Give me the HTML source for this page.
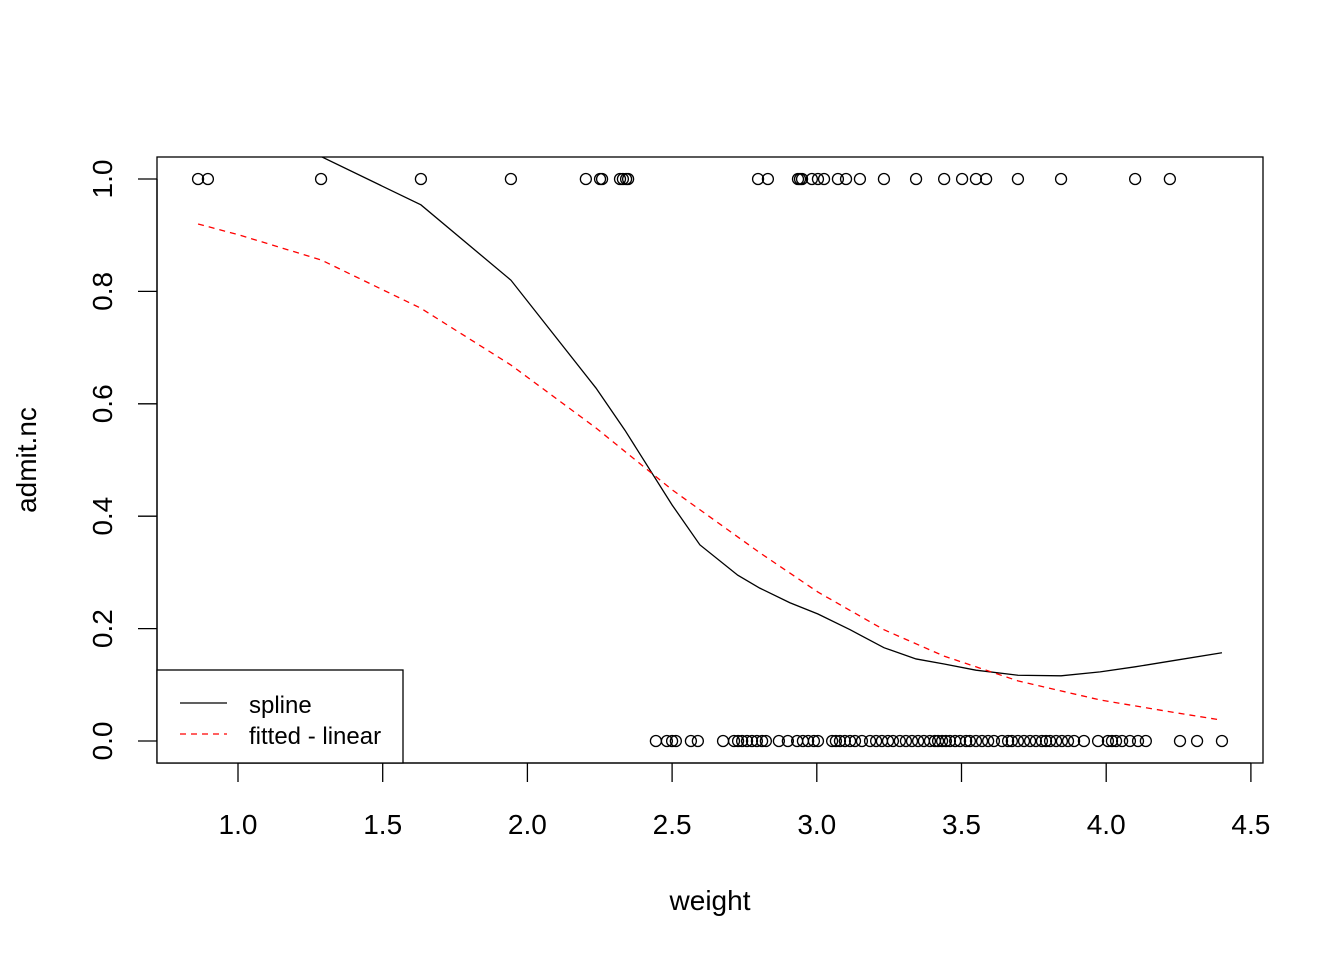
<!DOCTYPE html>
<html><head><meta charset="utf-8"><style>
body{margin:0;background:#fff}
svg{font-family:"Liberation Sans",Arial,sans-serif}
</style></head><body>
<svg id="c" width="1344" height="960">
<defs><clipPath id="clip"><rect x="157" y="157" width="1106" height="606"/></clipPath></defs>
<rect x="157" y="157" width="1106" height="606" fill="none" stroke="#000" stroke-width="1.3"/>
<g id="marks" clip-path="url(#clip)"></g>
<g id="axes"></g>
<text x="710" y="910" font-size="28" text-anchor="middle">weight</text>
<text transform="translate(36,460) rotate(-90)" font-size="28" text-anchor="middle">admit.nc</text>
<g>
<rect x="157" y="670" width="246" height="93" fill="#fff" stroke="#000" stroke-width="1.3"/>
<line x1="180" y1="703" x2="227" y2="703" stroke="#000" stroke-width="1.3"/>
<text x="249" y="713" font-size="24">spline</text>
<line x1="180" y1="734" x2="227" y2="734" stroke="#f00" stroke-width="1.3" stroke-dasharray="6,5"/>
<text x="249" y="744" font-size="24">fitted - linear</text>
</g>
</svg>
<script>
const admitWeights=[0.862,0.896,1.287,1.632,1.943,2.202,2.251,2.258,2.320,2.330,2.341,2.348,2.797,2.831,2.935,2.942,2.949,2.983,3.004,3.025,3.073,3.101,3.149,3.232,3.343,3.440,3.502,3.550,3.585,3.695,3.844,4.100,4.220];
const rejectWeights=[2.444,2.482,2.500,2.513,2.565,2.589,2.676,2.714,2.728,2.742,2.759,2.776,2.793,2.811,2.824,2.869,2.900,2.932,2.952,2.970,2.990,3.004,3.053,3.066,3.080,3.097,3.115,3.132,3.156,3.184,3.205,3.225,3.246,3.263,3.287,3.308,3.329,3.350,3.370,3.391,3.408,3.419,3.433,3.446,3.460,3.478,3.495,3.516,3.529,3.550,3.571,3.592,3.612,3.640,3.661,3.674,3.695,3.716,3.737,3.757,3.778,3.792,3.806,3.827,3.847,3.868,3.889,3.923,3.972,4.006,4.020,4.034,4.055,4.082,4.110,4.137,4.255,4.314,4.400];
const splineX=[0.862,1.287,1.632,1.943,2.237,2.337,2.500,2.596,2.727,2.803,2.907,3.004,3.115,3.232,3.343,3.440,3.550,3.695,3.844,3.979,4.100,4.220,4.400];
const splineY=[1.13,1.04,0.954,0.820,0.628,0.553,0.420,0.349,0.295,0.272,0.246,0.226,0.198,0.166,0.146,0.137,0.126,0.117,0.116,0.123,0.132,0.142,0.157];
const fitX=[0.862,1.007,1.287,1.632,1.943,2.237,2.500,2.803,3.004,3.232,3.440,3.695,3.979,4.220,4.400];
const fitY=[0.920,0.900,0.856,0.770,0.669,0.557,0.447,0.335,0.265,0.198,0.151,0.107,0.073,0.052,0.037];
const xTicks=[1.0,1.5,2.0,2.5,3.0,3.5,4.0,4.5];
const yTicks=[0.0,0.2,0.4,0.6,0.8,1.0];
const NS="http://www.w3.org/2000/svg";
const X=v=>238+(v-1)*289.4, Y=v=>741-v*562;
const marks=document.getElementById('marks'), axes=document.getElementById('axes');
function mk(tag,attrs,parent){const e=document.createElementNS(NS,tag);for(const k in attrs)e.setAttribute(k,attrs[k]);parent.appendChild(e);return e;}
admitWeights.forEach(w=>{const c=mk('circle',{cx:X(w),cy:Y(1),r:5.5,fill:'none',stroke:'#000','stroke-width':1.3},marks);

});
rejectWeights.forEach(w=>{const c=mk('circle',{cx:X(w),cy:Y(0),r:5.5,fill:'none',stroke:'#000','stroke-width':1.3},marks);

});
const sp=mk('polyline',{points:splineX.map((x,i)=>X(x)+','+Y(splineY[i])).join(' '),fill:'none',stroke:'#000','stroke-width':1.3},marks);


const ft=mk('polyline',{points:fitX.map((x,i)=>X(x)+','+Y(fitY[i])).join(' '),fill:'none',stroke:'#f00','stroke-width':1.3,'stroke-dasharray':'6,5'},marks);


mk('line',{x1:X(xTicks[0]),y1:763,x2:X(xTicks[xTicks.length-1]),y2:763,stroke:'#000','stroke-width':1.3},axes);
xTicks.forEach(t=>{mk('line',{x1:X(t),y1:763,x2:X(t),y2:782,stroke:'#000','stroke-width':1.3},axes);
const tx=mk('text',{x:X(t),y:834,'font-size':28,'text-anchor':'middle'},axes);tx.textContent=t.toFixed(1);

});
mk('line',{x1:157,y1:Y(0),x2:157,y2:Y(1),stroke:'#000','stroke-width':1.3},axes);
yTicks.forEach(t=>{mk('line',{x1:138,y1:Y(t),x2:157,y2:Y(t),stroke:'#000','stroke-width':1.3},axes);
const tx=mk('text',{transform:`translate(112,${Y(t)}) rotate(-90)`,'font-size':28,'text-anchor':'middle'},axes);tx.textContent=t.toFixed(1);

});
</script>
</body></html>
